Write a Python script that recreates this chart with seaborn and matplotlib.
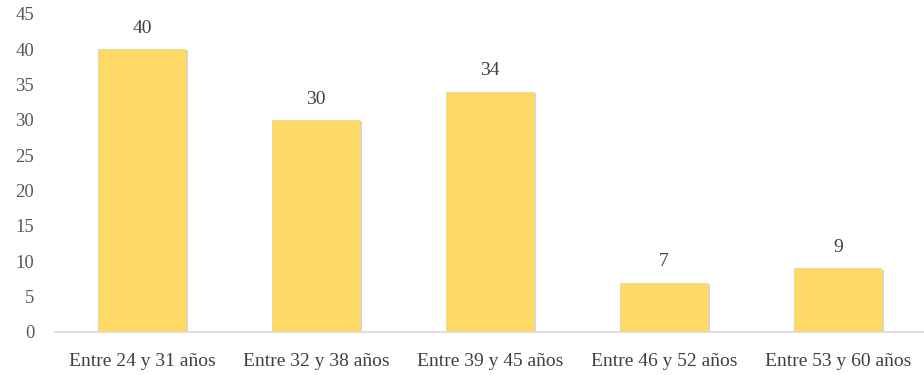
import matplotlib
matplotlib.use("Agg")
import matplotlib.pyplot as plt
import matplotlib.patheffects as pe
import seaborn as sns
import pandas as pd

categories = ["Entre 24 y 31 años", "Entre 32 y 38 años", "Entre 39 y 45 años",
              "Entre 46 y 52 años", "Entre 53 y 60 años"]
values = [40, 30, 34, 7, 9]
yticks = [0, 5, 10, 15, 20, 25, 30, 35, 40, 45]

sns.set_style("white")
plt.rcParams['font.family'] = ['Liberation Serif', 'DejaVu Serif']

df = pd.DataFrame({"cat": categories, "val": values})

fig = plt.figure(figsize=(9.24, 3.75), dpi=100)
ax = fig.add_axes([55/924, 43/375, 870/924, 318/375])
sns.barplot(data=df, x="cat", y="val", color="#FFD966", saturation=1, width=0.51,
            ax=ax, edgecolor="none")
for p in ax.patches:
    p.set_path_effects([pe.SimplePatchShadow(offset=(1.2, -0.8), shadow_rgbFace="#888888", alpha=0.35),
                        pe.Normal()])
ax.set_xlim(-0.5, 4.5)
ax.set_ylim(0, 45)
ax.set_yticks(yticks)
ax.set_xlabel("")
ax.set_ylabel("")
for s in ["top", "right", "left"]:
    ax.spines[s].set_visible(False)
ax.spines["bottom"].set_color("#D9D9D9")
ax.spines["bottom"].set_linewidth(1.2)
ax.tick_params(axis="y", length=0, labelsize=13.5, labelcolor="#595959", pad=15)
ax.tick_params(axis="x", length=0, labelsize=14, labelcolor="#404040", pad=15)
for c in ax.containers:
    ax.bar_label(c, padding=9, fontsize=14, color="#404040")
fig.savefig("out.png", dpi=100)
